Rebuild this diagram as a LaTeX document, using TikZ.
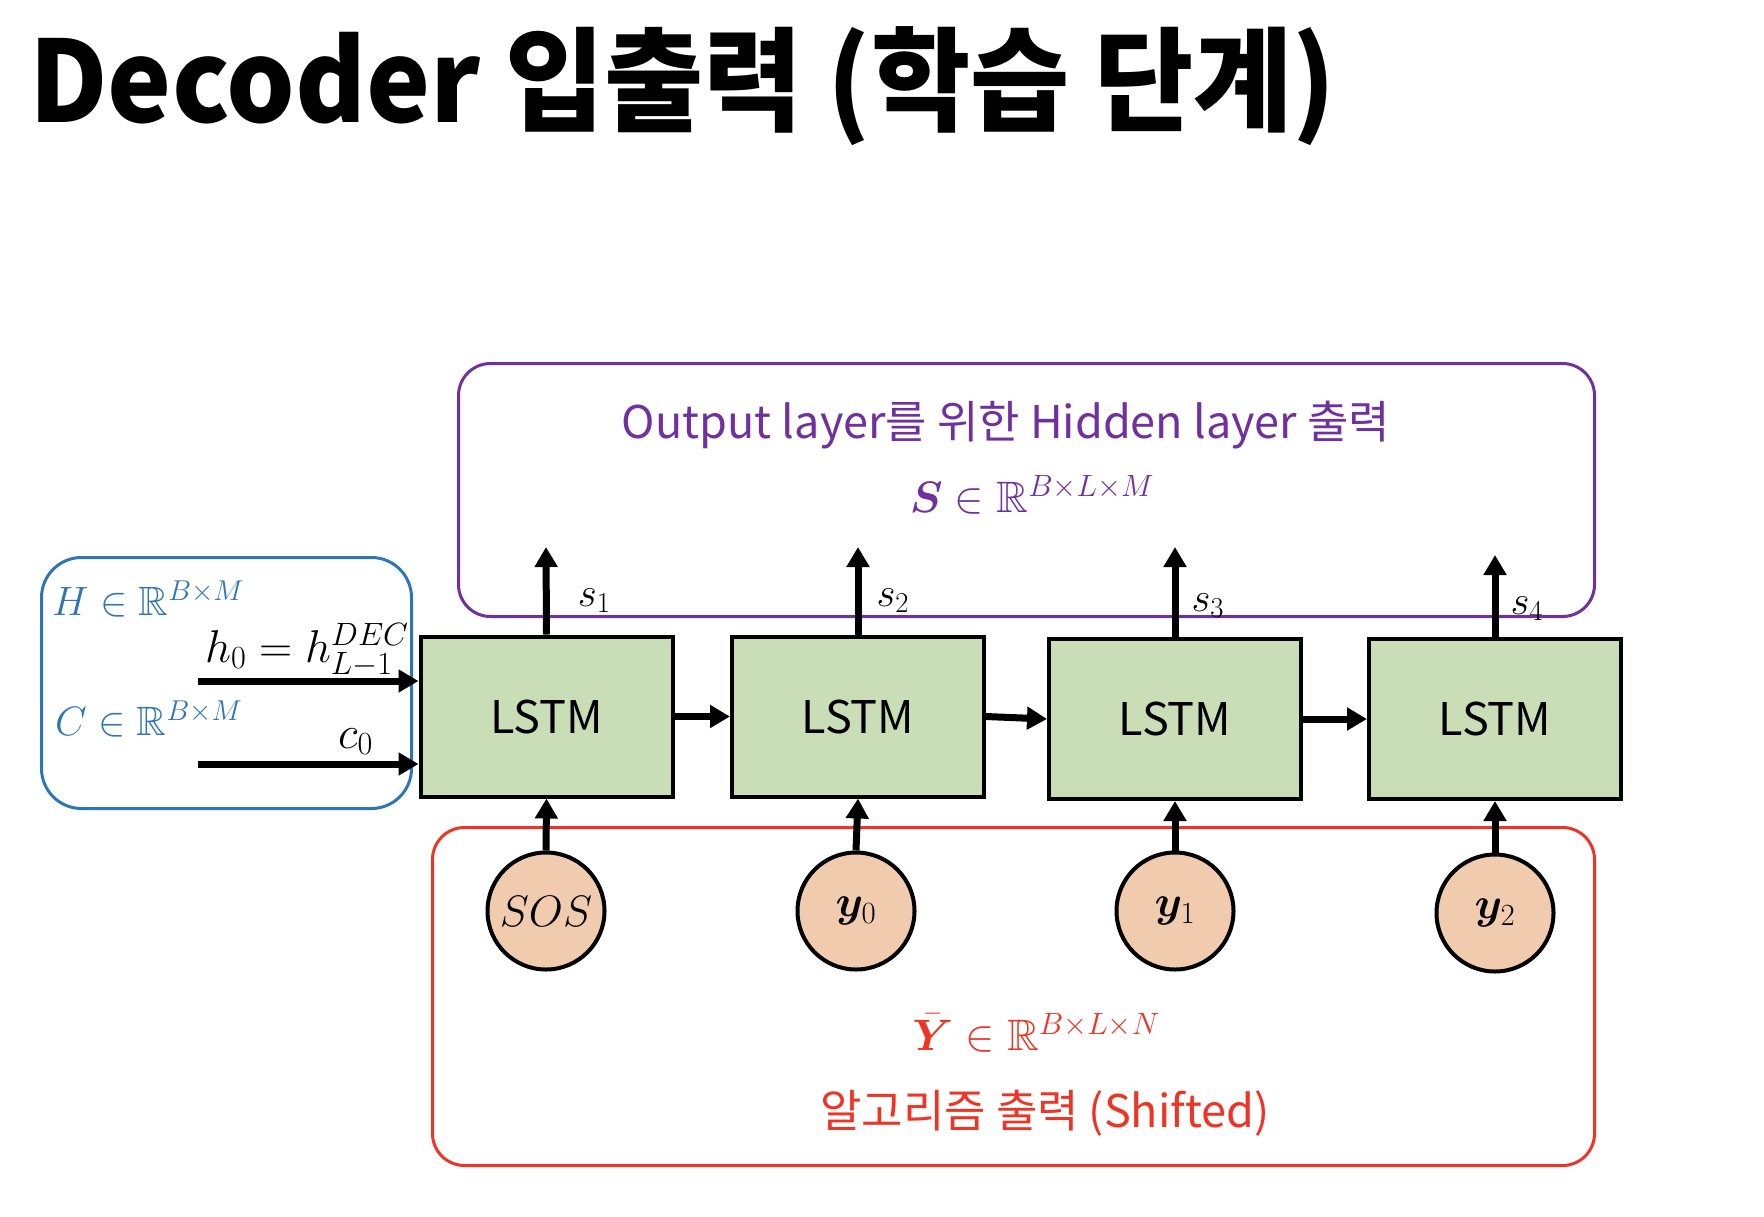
\RequirePackage{fix-cm}
\documentclass[tikz,border=0pt]{standalone}
\usepackage[no-math]{fontspec}
\setmainfont{Noto Sans CJK KR}
\usepackage{amsmath,amssymb}
\usepackage{bm}
\usetikzlibrary{arrows.meta}
\definecolor{lstmgreen}{RGB}{201,222,182}
\definecolor{tokpeach}{RGB}{241,203,173}
\definecolor{hidpurple}{RGB}{112,48,160}
\definecolor{algred}{RGB}{238,52,36}
\definecolor{initblue}{RGB}{46,117,182}
\tikzset{
lstm/.style={draw, line width=4pt, fill=lstmgreen, minimum width=252pt, minimum height=160pt, font=\fontsize{45}{54}\selectfont},
tok/.style={circle, draw, line width=4pt, fill=tokpeach, minimum size=117pt, inner sep=0pt, font=\fontsize{44}{52}\selectfont},
grp/.style={draw=#1, line width=3pt, rounded corners=32pt, inner sep=0pt},
arr/.style={line width=7pt, -{Triangle[length=20pt,width=22pt]}},
mth/.style={font=\fontsize{41}{48}\selectfont}}

\begin{document}
\begin{tikzpicture}[x=1pt,y=-1pt]
    \useasboundingbox (0,0) rectangle (1764,1216);

                \node[anchor=base west, inner sep=0pt, font=\fontsize{113}{120}\selectfont\bfseries] (title) at (29,122) {\scalebox{0.955}[1]{Decoder 입출력 (학습 단계)}};

                \node[grp=hidpurple, minimum width=1136pt, minimum height=253pt] (Sbox) at (1026.5,490) {};
                \node[grp=initblue, minimum width=370pt, minimum height=251pt, rounded corners=40pt] (Hbox) at (226.5,683) {};
                \node[grp=algred, minimum width=1162pt, minimum height=338pt] (Ybox) at (1013.5,996.5) {};

                \node[anchor=base, text=hidpurple, font=\fontsize{45}{54}\selectfont] (Stxt) at (1006,438) {Output layer를 위한 Hidden layer 출력};
                \node[anchor=base, text=hidpurple, font=\fontsize{44}{52}\selectfont] (Smath) at (1032,512) {$\bm{S}\in\mathbb{R}^{B\times L\times M}$};
                \node[anchor=base, text=algred, font=\fontsize{44}{52}\selectfont] (Ymath) at (1036,1050) {$\bar{\bm{Y}}\in\mathbb{R}^{B\times L\times N}$};
                \node[anchor=base, text=algred, font=\fontsize{45}{54}\selectfont] (Ytxt) at (1045,1127) {알고리즘 출력 (Shifted)};

                \node[anchor=base west, inner sep=0pt, text=initblue, mth] (Hm) at (52,615) {$H\in\mathbb{R}^{B\times M}$};
                \node[anchor=base west, inner sep=0pt, text=initblue, mth] (Cm) at (55,735) {$C\in\mathbb{R}^{B\times M}$};
                \node[anchor=base west, inner sep=0pt, font=\fontsize{46}{54}\selectfont] (h0) at (205,662) {$h_0 = h_{L-1}^{DEC}$};
                \node[anchor=base west, inner sep=0pt, font=\fontsize{46}{54}\selectfont] (c0) at (338,748) {$c_0$};

                \node[lstm] (L1) at (546.5,716.5) {LSTM};
                \node[lstm] (L2) at (858,716.5) {LSTM};
                \node[lstm] (L3) at (1175,719) {LSTM};
                \node[lstm] (L4) at (1495,719) {LSTM};

                \node[tok] (I1) at (546,911) {$SOS$};
                \node[tok] (I2) at (856,911) {$\bm{y}_0$};
                \node[tok] (I3) at (1175,911) {$\bm{y}_1$};
                \node[tok] (I4) at (1495,913) {$\bm{y}_2$};

                \coordinate (hin) at (198,681);
                \coordinate (cin) at (198,764);
                \coordinate (o1) at (546,547);
                \coordinate (o2) at (858,547);
                \coordinate (o3) at (1175,547);
                \coordinate (o4) at (1495,555);

                \draw[arr] (hin) -- (hin -| L1.west);
                \draw[arr] (cin) -- (cin -| L1.west);

                \draw[arr] (L1.east) -- (L2.west);
                \draw[arr] (L2.east) -- (L3.west);
                \draw[arr] (L3.east) -- (L4.west);

                \draw[arr] (I1.north) -- (L1.south);
                \draw[arr] (I2.north) -- (L2.south);
                \draw[arr] (I3.north) -- (L3.south);
                \draw[arr] (I4.north) -- (L4.south);

                \draw[arr] (L1.north) -- (o1) node[pos=0.32, anchor=base west, inner sep=0pt, xshift=28pt, mth] {$s_1$};
                \draw[arr] (L2.north) -- (o2) node[pos=0.32, anchor=base west, inner sep=0pt, xshift=15pt, mth] {$s_2$};
                \draw[arr] (L3.north) -- (o3) node[pos=0.28, anchor=base west, inner sep=0pt, xshift=13pt, mth] {$s_3$};
                \draw[arr] (L4.north) -- (o4) node[pos=0.28, anchor=base west, inner sep=0pt, xshift=12pt, mth] {$s_4$};

            \end{tikzpicture}
\end{document}
